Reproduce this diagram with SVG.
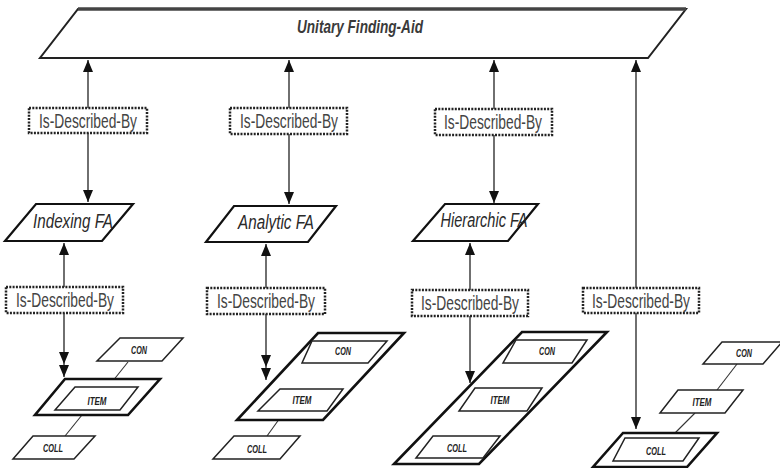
<svg xmlns="http://www.w3.org/2000/svg" width="780" height="468" viewBox="0 0 780 468">
  <defs>
    <marker id="head" viewBox="0 0 12 10" refX="12" refY="5" markerWidth="12" markerHeight="10" markerUnits="userSpaceOnUse" orient="auto-start-reverse">
      <path d="M0,0 L12,5 L0,10 Z" fill="#111"/>
    </marker>
    <marker id="head2" viewBox="0 0 25 10" refX="25" refY="5" markerWidth="25" markerHeight="10" markerUnits="userSpaceOnUse" orient="auto">
      <path d="M0,0 L12,5 L0,10 Z M13,0 L25,5 L13,10 Z" fill="#111"/>
    </marker>
  </defs>
  <style>
    .bg { fill: #ffffff; }
    .wire { fill: none; stroke: #222; stroke-width: 1.3; }
    .link { fill: none; stroke: #333; stroke-width: 1.1; }
    .top { fill: #fff; stroke: #222; stroke-width: 2; }
    .topedge { fill: none; stroke: #444; stroke-width: 3.5; }
    .fa { fill: #fff; stroke: #111; stroke-width: 2.2; }
    .frame { fill: #fff; stroke: #111; stroke-width: 2.6; }
    .small { fill: #fff; stroke: #222; stroke-width: 1.5; }
    .rel { fill: #fff; stroke: #222; stroke-width: 2.5; stroke-dasharray: 2 1.3; }
    .title { font-family: "Liberation Sans", Arial, sans-serif; font-weight: bold; font-style: italic; font-size: 19px; fill: #3a3a3a; text-anchor: middle; }
    .falabel { font-family: "Liberation Sans", Arial, sans-serif; font-style: italic; font-size: 19.5px; fill: #2a2a2a; text-anchor: middle; }
    .rellabel { font-family: "Liberation Sans", Arial, sans-serif; font-size: 19.5px; fill: #444; text-anchor: middle; }
    .tiny { font-family: "Liberation Sans", Arial, sans-serif; font-weight: bold; font-style: italic; font-size: 10px; fill: #222; text-anchor: middle; }
  </style>
  <rect class="bg" x="0" y="0" width="780" height="468"/>

  <!-- connectors: Is-Described-By arrows and the CON / ITEM / COLL links -->
  <g id="connectors">
    <path class="wire" d="M88,60 L88,202" marker-start="url(#head)" marker-end="url(#head)"/>
    <path class="wire" d="M289,60 L289,204" marker-start="url(#head)" marker-end="url(#head)"/>
    <path class="wire" d="M494,60 L494,203" marker-start="url(#head)" marker-end="url(#head)"/>
    <path class="wire" d="M636,60 L636,429" marker-start="url(#head)" marker-end="url(#head)"/>

    <path class="wire" d="M64,243 L64,377" marker-start="url(#head)" marker-end="url(#head2)"/>
    <path class="wire" d="M266,244 L266,380" marker-start="url(#head)" marker-end="url(#head2)"/>
    <path class="wire" d="M470,243 L470,383" marker-start="url(#head)" marker-end="url(#head)"/>

    <path class="link" d="M128,362 L108,387"/>
    <path class="link" d="M82,415 L65,436"/>
    <path class="link" d="M330,363 L312,389"/>
    <path class="link" d="M285,411 L267,436"/>
    <path class="link" d="M535,363 L515,388"/>
    <path class="link" d="M490,412 L472,436"/>
    <path class="link" d="M737,364 L717,390"/>
    <path class="link" d="M695,413 L675,433"/>
  </g>

  <!-- Unitary Finding-Aid -->
  <g id="unitary">
    <polygon class="top" points="78,9 686,9 648,58 40,58"/>
    <line class="topedge" x1="78" y1="9" x2="686" y2="9"/>
    <text class="title" x="360" y="33" textLength="126" lengthAdjust="spacingAndGlyphs">Unitary Finding-Aid</text>
  </g>

  <!-- upper relation boxes -->
  <g id="rel-indexing-top">
    <rect class="rel" x="29" y="108" width="118" height="25"/>
    <text class="rellabel" x="88" y="128" textLength="98" lengthAdjust="spacingAndGlyphs">Is-Described-By</text>
  </g>
  <g id="rel-analytic-top">
    <rect class="rel" x="230" y="108" width="117" height="26"/>
    <text class="rellabel" x="289" y="128" textLength="98" lengthAdjust="spacingAndGlyphs">Is-Described-By</text>
  </g>
  <g id="rel-hierarchic-top">
    <rect class="rel" x="435" y="109" width="117" height="26"/>
    <text class="rellabel" x="493" y="129" textLength="98" lengthAdjust="spacingAndGlyphs">Is-Described-By</text>
  </g>

  <!-- finding aids -->
  <g id="indexing-fa">
    <polygon class="fa" points="36,204 133,204 102,241 5,241"/>
    <text class="falabel" x="73" y="228" textLength="80" lengthAdjust="spacingAndGlyphs">Indexing FA</text>
  </g>
  <g id="analytic-fa">
    <polygon class="fa" points="234,206 336,206 308,242 206,242"/>
    <text class="falabel" x="276" y="229" textLength="76" lengthAdjust="spacingAndGlyphs">Analytic FA</text>
  </g>
  <g id="hierarchic-fa">
    <polygon class="fa" points="445,204 538,204 508,241 413,241"/>
    <text class="falabel" x="484" y="227" textLength="87" lengthAdjust="spacingAndGlyphs">Hierarchic FA</text>
  </g>

  <!-- lower relation boxes -->
  <g id="rel-indexing-bottom">
    <rect class="rel" x="6" y="287" width="117" height="26"/>
    <text class="rellabel" x="65" y="307" textLength="98" lengthAdjust="spacingAndGlyphs">Is-Described-By</text>
  </g>
  <g id="rel-analytic-bottom">
    <rect class="rel" x="207" y="288" width="118" height="26"/>
    <text class="rellabel" x="266" y="308" textLength="98" lengthAdjust="spacingAndGlyphs">Is-Described-By</text>
  </g>
  <g id="rel-hierarchic-bottom">
    <rect class="rel" x="412" y="290" width="116" height="26"/>
    <text class="rellabel" x="470" y="310" textLength="98" lengthAdjust="spacingAndGlyphs">Is-Described-By</text>
  </g>
  <g id="rel-unitary">
    <rect class="rel" x="583" y="288" width="116" height="25"/>
    <text class="rellabel" x="641" y="308" textLength="98" lengthAdjust="spacingAndGlyphs">Is-Described-By</text>
  </g>

  <!-- indexing: described unit is the ITEM -->
  <g id="indexing-con">
    <polygon class="small" points="120,338 183,338 162,361 97,361"/>
    <text class="tiny" x="139" y="354" textLength="16" lengthAdjust="spacingAndGlyphs">CON</text>
  </g>
  <g id="indexing-item">
    <polygon class="frame" points="65,379 160,379 128,415 35,415"/>
    <polygon class="small" points="75,387 138,387 120,410 55,410"/>
    <text class="tiny" x="97" y="405" textLength="19" lengthAdjust="spacingAndGlyphs">ITEM</text>
  </g>
  <g id="indexing-coll">
    <polygon class="small" points="33,436 95,436 74,459 13,459"/>
    <text class="tiny" x="53" y="452" textLength="20" lengthAdjust="spacingAndGlyphs">COLL</text>
  </g>

  <!-- analytic: described unit is CON + ITEM -->
  <g id="analytic-frame">
    <polygon class="frame" points="318,333 404,333 323,420 237,420"/>
  </g>
  <g id="analytic-con">
    <polygon class="small" points="312,341 387,341 368,363 302,363"/>
    <text class="tiny" x="343" y="355" textLength="16" lengthAdjust="spacingAndGlyphs">CON</text>
  </g>
  <g id="analytic-item">
    <polygon class="small" points="280,389 343,389 327,411 258,411"/>
    <text class="tiny" x="302" y="404" textLength="19" lengthAdjust="spacingAndGlyphs">ITEM</text>
  </g>
  <g id="analytic-coll">
    <polygon class="small" points="234,436 300,436 280,459 213,459"/>
    <text class="tiny" x="257" y="453" textLength="20" lengthAdjust="spacingAndGlyphs">COLL</text>
  </g>

  <!-- hierarchic: described unit is CON + ITEM + COLL -->
  <g id="hierarchic-frame">
    <polygon class="frame" points="522,332 607,332 479,464 394,464"/>
  </g>
  <g id="hierarchic-con">
    <polygon class="small" points="516,340 587,340 572,363 503,363"/>
    <text class="tiny" x="547" y="355" textLength="16" lengthAdjust="spacingAndGlyphs">CON</text>
  </g>
  <g id="hierarchic-item">
    <polygon class="small" points="475,388 542,388 527,411 459,411"/>
    <text class="tiny" x="500" y="404" textLength="19" lengthAdjust="spacingAndGlyphs">ITEM</text>
  </g>
  <g id="hierarchic-coll">
    <polygon class="small" points="433,436 500,436 483,458 416,458"/>
    <text class="tiny" x="457" y="452" textLength="20" lengthAdjust="spacingAndGlyphs">COLL</text>
  </g>

  <!-- unitary: described unit is the COLL -->
  <g id="unitary-con">
    <polygon class="small" points="722,342 782,342 763,364 703,364"/>
    <text class="tiny" x="744" y="357" textLength="16" lengthAdjust="spacingAndGlyphs">CON</text>
  </g>
  <g id="unitary-item">
    <polygon class="small" points="678,390 743,390 725,413 660,413"/>
    <text class="tiny" x="702" y="406" textLength="19" lengthAdjust="spacingAndGlyphs">ITEM</text>
  </g>
  <g id="unitary-coll">
    <polygon class="frame" points="623,433 717,433 687,467 593,467"/>
    <polygon class="small" points="625,438 699,438 683,461 613,461"/>
    <text class="tiny" x="656" y="455" textLength="20" lengthAdjust="spacingAndGlyphs">COLL</text>
  </g>
</svg>
